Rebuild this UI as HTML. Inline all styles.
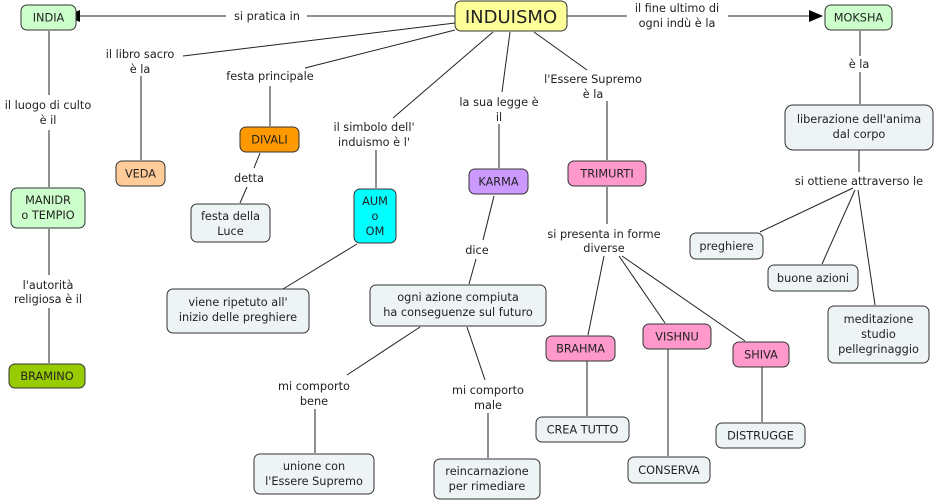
<!DOCTYPE html>
<html><head><meta charset="utf-8"><style>
html,body{margin:0;padding:0;background:#fff;}
svg{display:block}
text{font-family:"DejaVu Sans","Liberation Sans",sans-serif;font-size:11.3px;fill:#222;text-anchor:middle}
rect{stroke:#333;stroke-width:1}
line{stroke:#222;stroke-width:1}
</style></head><body>
<svg width="934" height="502" viewBox="0 0 934 502" xmlns="http://www.w3.org/2000/svg">
<g>
<line x1="455" y1="16" x2="307" y2="16"/><line x1="226" y1="16" x2="80" y2="16"/>
<polygon points="66,16 80,10 80,22" fill="#000"/>
<line x1="567" y1="16" x2="627" y2="16"/><line x1="728" y1="16" x2="810" y2="16"/>
<polygon points="823,16 809,10 809,22" fill="#000"/>
<line x1="455" y1="23" x2="183" y2="56"/>
<line x1="455" y1="30" x2="305" y2="68"/>
<line x1="270" y1="86" x2="270" y2="126"/>
<line x1="141" y1="76" x2="141" y2="160"/>
<line x1="493" y1="32" x2="393" y2="118"/>
<line x1="376" y1="150" x2="376" y2="188"/>
<line x1="510" y1="32" x2="502" y2="92"/>
<line x1="499" y1="124" x2="499" y2="168"/>
<line x1="534" y1="32" x2="587" y2="70"/>
<line x1="607" y1="101" x2="607" y2="160"/>
<line x1="607" y1="187" x2="607" y2="224"/>
<line x1="604" y1="256" x2="588" y2="335"/>
<line x1="619" y1="256" x2="665" y2="323"/>
<line x1="622" y1="256" x2="745" y2="341"/>
<line x1="587" y1="361" x2="587" y2="416"/>
<line x1="668" y1="349" x2="668" y2="456"/>
<line x1="762" y1="367" x2="762" y2="422"/>
<line x1="49" y1="31" x2="49" y2="95"/>
<line x1="49" y1="130" x2="49" y2="187"/>
<line x1="49" y1="229" x2="49" y2="275"/>
<line x1="49" y1="308" x2="49" y2="363"/>
<line x1="260" y1="153" x2="254" y2="168"/>
<line x1="247" y1="187" x2="240" y2="203"/>
<line x1="357" y1="244" x2="283" y2="289"/>
<line x1="494" y1="196" x2="483" y2="240"/>
<line x1="476" y1="259" x2="469" y2="284"/>
<line x1="420" y1="327" x2="347" y2="375"/>
<line x1="315" y1="409" x2="315" y2="453"/>
<line x1="467" y1="327" x2="485" y2="380"/>
<line x1="488" y1="413" x2="488" y2="458"/>
<line x1="860" y1="31" x2="860" y2="56"/>
<line x1="860" y1="72" x2="860" y2="104"/>
<line x1="859" y1="150" x2="859" y2="172"/>
<line x1="853" y1="188" x2="760" y2="232"/>
<line x1="855" y1="190" x2="822" y2="264"/>
<line x1="858" y1="190" x2="875" y2="305"/>
</g>
<g>
<rect x="21" y="5" width="55" height="25" rx="6" fill="#ccffcc"/><text x="48.5" y="21.5">INDIA</text>
<rect x="455" y="1" width="112" height="30" rx="6" fill="#ffff99"/><text x="511" y="23" style="font-size:18px">INDUISMO</text>
<rect x="825" y="5" width="67" height="25" rx="6" fill="#ccffcc"/><text x="858.5" y="21.5">MOKSHA</text>
<rect x="116" y="161" width="49" height="25" rx="6" fill="#ffcc99"/><text x="140.5" y="177.5">VEDA</text>
<rect x="240" y="127" width="59" height="25" rx="6" fill="#ff9900"/><text x="269.5" y="143.5">DIVALI</text>
<rect x="11" y="188" width="74" height="40" rx="6" fill="#ccffcc"/><text x="48" y="204">MANIDR</text><text x="48" y="219">o TEMPIO</text>
<rect x="191" y="204" width="79" height="38" rx="6" fill="#eef3f5"/><text x="230.5" y="220">festa della</text><text x="230.5" y="235">Luce</text>
<rect x="354" y="189" width="42" height="54" rx="6" fill="#00ffff"/><text x="375" y="205">AUM</text><text x="375" y="220">o</text><text x="375" y="235">OM</text>
<rect x="469" y="169" width="59" height="25" rx="6" fill="#cc99ff"/><text x="498.5" y="185.5">KARMA</text>
<rect x="568" y="161" width="78" height="25" rx="6" fill="#ff99cc"/><text x="607" y="177.5">TRIMURTI</text>
<rect x="785" y="105" width="148" height="45" rx="8" fill="#eef3f5"/><text x="859" y="123">liberazione dell'anima</text><text x="859" y="138">dal corpo</text>
<rect x="690" y="233" width="73" height="26" rx="6" fill="#eef3f5"/><text x="726.5" y="250">preghiere</text>
<rect x="768" y="265" width="90" height="26" rx="6" fill="#eef3f5"/><text x="813" y="282">buone azioni</text>
<rect x="828" y="306" width="101" height="57" rx="6" fill="#eef3f5"/><text x="878.5" y="323">meditazione</text><text x="878.5" y="338">studio</text><text x="878.5" y="353">pellegrinaggio</text>
<rect x="167" y="289" width="142" height="44" rx="6" fill="#eef3f5"/><text x="238" y="306">viene ripetuto all'</text><text x="238" y="321">inizio delle preghiere</text>
<rect x="370" y="285" width="176" height="41" rx="6" fill="#eef3f5"/><text x="458" y="301">ogni azione compiuta</text><text x="458" y="316">ha conseguenze sul futuro</text>
<rect x="546" y="336" width="69" height="25" rx="6" fill="#ff99cc"/><text x="580.5" y="352.5">BRAHMA</text>
<rect x="643" y="324" width="68" height="25" rx="6" fill="#ff99cc"/><text x="677" y="340.5">VISHNU</text>
<rect x="733" y="342" width="56" height="25" rx="6" fill="#ff99cc"/><text x="761" y="358.5">SHIVA</text>
<rect x="536" y="417" width="93" height="25" rx="6" fill="#eef3f5"/><text x="582.5" y="433.5">CREA TUTTO</text>
<rect x="716" y="423" width="89" height="25" rx="6" fill="#eef3f5"/><text x="760.5" y="439.5">DISTRUGGE</text>
<rect x="628" y="457" width="82" height="26" rx="6" fill="#eef3f5"/><text x="669" y="474">CONSERVA</text>
<rect x="254" y="454" width="120" height="40" rx="6" fill="#eef3f5"/><text x="314" y="470">unione con</text><text x="314" y="485">l'Essere Supremo</text>
<rect x="434" y="459" width="106" height="40" rx="6" fill="#eef3f5"/><text x="487" y="475">reincarnazione</text><text x="487" y="490">per rimediare</text>
<rect x="9" y="364" width="76" height="24" rx="6" fill="#99cc00"/><text x="47" y="380">BRAMINO</text>
</g>
<g>
<text x="267" y="20">si pratica in</text>
<text x="677" y="12">il fine ultimo di</text><text x="677" y="27">ogni indù è la</text>
<text x="140" y="58">il libro sacro</text><text x="140" y="73">è la</text>
<text x="270" y="80">festa principale</text>
<text x="374" y="131">il simbolo dell'</text><text x="374" y="146">induismo è l'</text>
<text x="499" y="106">la sua legge è</text><text x="499" y="121">il</text>
<text x="593" y="83">l'Essere Supremo</text><text x="593" y="98">è la</text>
<text x="859" y="68">è la</text>
<text x="48" y="109">il luogo di culto</text><text x="48" y="124">è il</text>
<text x="249" y="182">detta</text>
<text x="477" y="254">dice</text>
<text x="604" y="238">si presenta in forme</text><text x="604" y="252">diverse</text>
<text x="859" y="185">si ottiene attraverso le</text>
<text x="48" y="289">l'autorità</text><text x="48" y="303">religiosa è il</text>
<text x="314" y="390">mi comporto</text><text x="314" y="405">bene</text>
<text x="488" y="394">mi comporto</text><text x="488" y="409">male</text>
</g>
</svg>
</body></html>
